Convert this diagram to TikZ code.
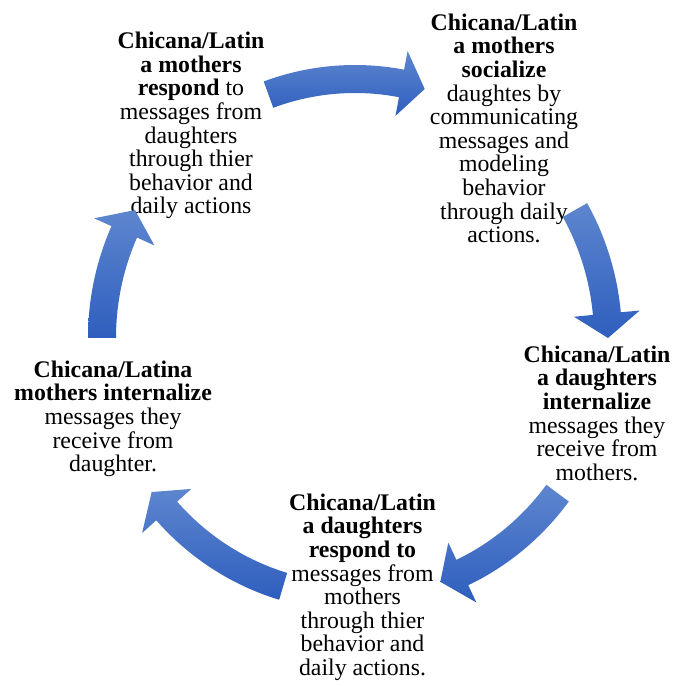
\documentclass[tikz,border=0pt]{standalone}
\usepackage{fontspec}
\setmainfont{Liberation Serif}
\usepackage{xcolor}
\usepackage{tikz}
\usetikzlibrary{positioning}
\definecolor{cyclelight}{HTML}{5E86CF}
\definecolor{cycledark}{HTML}{2E5EBE}

\begin{document}
\begin{tikzpicture}[
    x=1pt, y=1pt,
    every node/.style={align=center, inner sep=0pt, anchor=north, font=\fontsize{23.8}{23.6}\selectfont},
    cyclearrow/.style={top color=cyclelight, bottom color=cycledark, draw=none}
]
\useasboundingbox (0,0) rectangle (673,686);

\node (socialize) at (504,672.4) {\textbf{Chicana/Latin}\\\textbf{a mothers}\\\textbf{socialize}\\daughtes by\\communicating\\messages and\\modeling\\behavior\\through daily\\actions.};
\node (dinternal) at (597,340.4) {\textbf{Chicana/Latin}\\\textbf{a daughters}\\\textbf{internalize}\\messages they\\receive from\\mothers.};
\node (drespond) at (362.5,192.4) {\textbf{Chicana/Latin}\\\textbf{a daughters}\\\textbf{respond to}\\messages from\\mothers\\through thier\\behavior and\\daily actions.};
\node (minternal) at (113,325.4) {\textbf{Chicana/Latina}\\\textbf{mothers internalize}\\messages they\\receive from\\daughter.};
\node (mrespond) at (191,654.1) {\textbf{Chicana/Latin}\\\textbf{a mothers}\\\textbf{respond} to\\messages from\\daughters\\through thier\\behavior and\\daily actions};

% curved block arrows round the cycle
\begin{scope}[shift={(355,348)}]
\foreach \ta/\tb in {110/74, 29.6/0, -36.8/-70.3, -106.5/-143.5, 180/150.4} {
  \pgfmathsetmacro{\hb}{\tb+5.4}
  \path[cyclearrow] (\ta:267pt and 273pt)
    arc[start angle=\ta, end angle=\hb, x radius=267pt, y radius=273pt]
    -- (\hb:286pt and 292pt) -- (\tb:253pt and 259pt) -- (\hb:220pt and 226pt)
    -- (\hb:239pt and 245pt)
    arc[start angle=\hb, end angle=\ta, x radius=239pt, y radius=245pt] -- cycle;
}
\end{scope}
\end{tikzpicture}
\end{document}
